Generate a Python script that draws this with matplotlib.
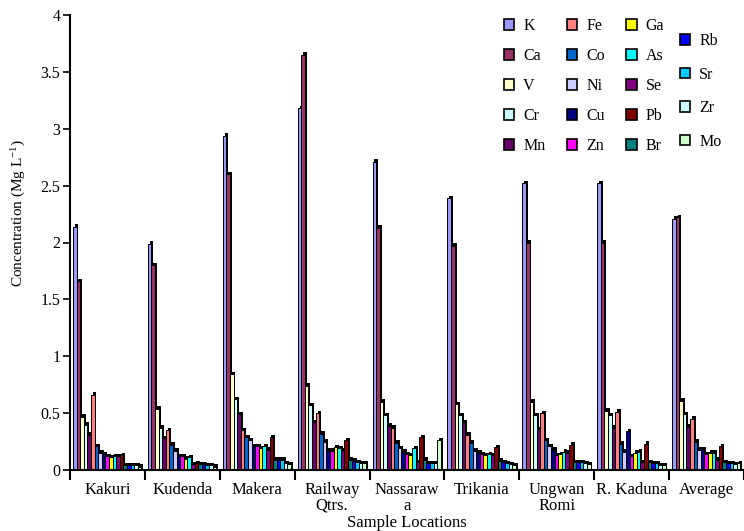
import numpy as np
import matplotlib
matplotlib.use('Agg')
import matplotlib.pyplot as plt
from matplotlib.patches import Patch

# sample locations (x groups)
locations = ['Kakuri', 'Kudenda', 'Makera', 'Railway\nQtrs.', 'Nassaraw\na',
             'Trikania', 'Ungwan\nRomi', 'R. Kaduna', 'Average']

# concentration per element at each location (Mg/L)
K  = [2.14, 1.99, 2.94, 3.18, 2.71, 2.39, 2.52, 2.52, 2.21]
Ca = [1.66, 1.80, 2.60, 3.65, 2.13, 1.97, 2.00, 2.00, 2.22]
V  = [0.47, 0.54, 0.84, 0.74, 0.60, 0.58, 0.60, 0.52, 0.61]
Cr = [0.40, 0.37, 0.62, 0.57, 0.48, 0.48, 0.48, 0.48, 0.49]
Mn = [0.31, 0.28, 0.49, 0.42, 0.39, 0.42, 0.36, 0.37, 0.38]
Fe = [0.66, 0.35, 0.35, 0.50, 0.37, 0.31, 0.50, 0.51, 0.45]
Co = [0.21, 0.22, 0.29, 0.32, 0.24, 0.24, 0.26, 0.23, 0.25]
Ni = [0.15, 0.17, 0.26, 0.25, 0.19, 0.17, 0.21, 0.16, 0.18]
Cu = [0.14, 0.12, 0.21, 0.17, 0.16, 0.15, 0.18, 0.34, 0.18]
Zn = [0.12, 0.12, 0.21, 0.17, 0.14, 0.14, 0.13, 0.12, 0.14]
Ga = [0.11, 0.10, 0.19, 0.20, 0.13, 0.13, 0.14, 0.15, 0.15]
As = [0.12, 0.11, 0.21, 0.19, 0.19, 0.14, 0.16, 0.16, 0.15]
Se = [0.12, 0.05, 0.18, 0.17, 0.07, 0.13, 0.15, 0.07, 0.09]
Pb = [0.13, 0.06, 0.29, 0.26, 0.29, 0.20, 0.22, 0.23, 0.21]
Br = [0.04, 0.05, 0.09, 0.09, 0.09, 0.08, 0.07, 0.07, 0.07]
Rb = [0.04, 0.05, 0.09, 0.08, 0.06, 0.07, 0.07, 0.06, 0.06]
Sr = [0.04, 0.04, 0.09, 0.07, 0.06, 0.06, 0.07, 0.06, 0.06]
Zr = [0.04, 0.04, 0.06, 0.06, 0.06, 0.05, 0.06, 0.04, 0.05]
Mo = [0.03, 0.03, 0.05, 0.06, 0.26, 0.04, 0.05, 0.04, 0.06]

elements = ['K', 'Ca', 'V', 'Cr', 'Mn', 'Fe', 'Co', 'Ni', 'Cu', 'Zn',
            'Ga', 'As', 'Se', 'Pb', 'Br', 'Rb', 'Sr', 'Zr', 'Mo']
values = [K, Ca, V, Cr, Mn, Fe, Co, Ni, Cu, Zn, Ga, As, Se, Pb, Br, Rb, Sr, Zr, Mo]
colors = ['#9999FF', '#993366', '#FFFFCC', '#CCFFFF', '#660066',
          '#FF8080', '#0066CC', '#CCCCFF', '#000080', '#FF00FF',
          '#FFFF00', '#00FFFF', '#800080', '#800000', '#008080',
          '#0000FF', '#00CCFF', '#CCFFFF', '#CCFFCC']

plt.rcParams['font.family'] = ['Liberation Serif', 'DejaVu Serif']
plt.rcParams['mathtext.default'] = 'regular'

fig = plt.figure(figsize=(7.44, 5.31), dpi=100)
ax = fig.add_axes([70/744, 61/531, 674/744, 455/531])

pitch = 0.048
x0 = np.arange(len(locations)) + 0.04
for j, (vals, c) in enumerate(zip(values, colors)):
    x = x0 + j*pitch
    # black depth behind each bar (old excel 3d look)
    ax.bar(x + 0.025, np.array(vals) + 0.022, width=pitch, align='edge',
           color='black', linewidth=0, zorder=1)
    ax.bar(x, vals, width=pitch, align='edge', color=c,
           edgecolor='black', linewidth=0.7, zorder=2)

ax.set_xlim(0, 9)
ax.set_ylim(0, 4)
yt = np.arange(0, 4.01, 0.5)
ax.set_yticks(yt)
ax.set_yticklabels(['{:g}'.format(v) for v in yt], fontsize=11.5)
ax.tick_params(axis='y', direction='out', length=5, width=1.2, pad=2)

ax.set_xticks(np.arange(0, 10))
ax.set_xticklabels([])
ax.set_xticks(np.arange(len(locations)) + 0.5, minor=True)
ax.set_xticklabels(locations, minor=True, fontsize=12, linespacing=0.95)
ax.tick_params(axis='x', which='major', direction='out', length=7, width=1.5)
ax.tick_params(axis='x', which='minor', length=0, pad=9)

for s in ['top', 'right']:
    ax.spines[s].set_visible(False)
for s in ['left', 'bottom']:
    ax.spines[s].set_linewidth(1.5)

ax.set_ylabel('Concentration (Mg L$^{-1}$)', fontsize=11)
ax.yaxis.set_label_coords(-0.062, 0.565)
ax.set_xlabel('Sample Locations', fontsize=12)
ax.xaxis.set_label_coords(0.5, -0.098)

handles = [Patch(facecolor=c, edgecolor='black', linewidth=1.2) for c in colors]
leg1 = fig.legend(handles[:15], elements[:15], ncol=3, loc='upper left',
                  bbox_to_anchor=(504/744, 1 - 18/531), frameon=False,
                  fontsize=11.5, handlelength=0.65, handleheight=0.65,
                  handletextpad=0.55, labelspacing=0.88, columnspacing=1.35,
                  borderpad=0, borderaxespad=0)
leg2 = fig.legend(handles[15:], elements[15:], ncol=1, loc='upper left',
                  bbox_to_anchor=(680/744, 1 - 33/531), frameon=False,
                  fontsize=11.5, handlelength=0.65, handleheight=0.65,
                  handletextpad=0.55, labelspacing=1.1,
                  borderpad=0, borderaxespad=0)

fig.savefig('out.png', dpi=100)
